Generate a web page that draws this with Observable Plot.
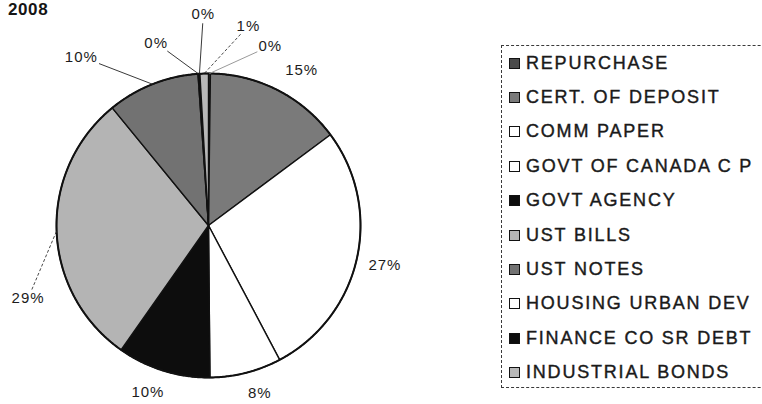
<!DOCTYPE html>
<html>
<head>
<meta charset="utf-8">
<script src="https://cdn.jsdelivr.net/npm/d3@7"></script>
<script src="https://cdn.jsdelivr.net/npm/@observablehq/plot@0.6"></script>
<style>
  html, body { margin: 0; padding: 0; background: #fff; overflow: hidden; }
  #wrap { position: relative; width: 762px; height: 404px; overflow: hidden;
          font-family: "Liberation Sans", Arial, Helvetica, sans-serif; }
  #chart { position: absolute; left: 0; top: 0; }
  #chart svg text { letter-spacing: 1px; }
  #title { position: absolute; left: 8px; top: 0px; font-size: 17px; font-weight: bold;
           color: #151515; letter-spacing: 0.6px; }
  #legend { position: absolute; left: 501px; top: 45px; width: 320px; height: 343px;
            border: 1px dashed #3a3a3a; border-right: none; box-sizing: border-box; }
  .item { height: 34.4px; display: flex; align-items: center; }
  .sw { width: 11px; height: 11px; border: 1.5px solid #111; box-sizing: border-box;
        margin-left: 7px; margin-right: 6px; flex: none; }
  .lab { font-size: 18px; letter-spacing: 1.8px; color: #1a1a1a; white-space: nowrap;
         -webkit-text-stroke: 0.4px #1a1a1a; }
</style>
</head>
<body>
<div id="wrap">
  <div id="chart"></div>
  <div id="title"></div>
  <div id="legend"></div>
</div>
<script>
// ---------------- data ----------------
const title = "2008";
const categories = [
  "REPURCHASE", "CERT. OF DEPOSIT", "COMM PAPER", "GOVT OF CANADA C P", "GOVT AGENCY",
  "UST BILLS", "UST NOTES", "HOUSING URBAN DEV", "FINANCE CO SR DEBT", "INDUSTRIAL BONDS"
];
const shares = [0.2, 14.6, 27.4, 7.6, 9.9, 29.3, 9.8, 0.1, 0.1, 0.9];
const fills = ["#4a4a4a", "#7a7a7a", "#ffffff", "#ffffff", "#0d0d0d",
               "#b4b4b4", "#727272", "#ffffff", "#0d0d0d", "#b8b8b8"];

// ---------------- layout ----------------
const W = 762, H = 404, CX = 208, CY = 225, R = 152;
// label placement overrides (angle in degrees clockwise from 12 o'clock, radius relative to pie)
const labelLayout = {
  "REPURCHASE":        {angle: 19,    r: 1.25, leader: "gray"},
  "CERT. OF DEPOSIT":  {angle: 31,    r: 1.19},
  "GOVT OF CANADA C P":{angle: 163,   r: 1.155},
  "GOVT AGENCY":       {angle: 200,   r: 1.165},
  "UST BILLS":         {angle: 248,   r: 1.28, leader: "dashed"},
  "UST NOTES":         {angle: 323,   r: 1.39, leader: "solid"},
  "HOUSING URBAN DEV": {angle: 344,   r: 1.25, leader: "solid"},
  "FINANCE CO SR DEBT":{angle: 358.6, r: 1.39, leader: "solid"},
  "INDUSTRIAL BONDS":  {angle: 11.3,  r: 1.34, leader: "dashed"}
};
const defaultLabelR = 1.19;

const rows = categories.map((c, i) => ({cat: c, value: shares[i]}));
const total = d3.sum(shares);
const arcs = d3.pie().sort(null).value(d => d.value)(rows);

const pt = (a, r) => ({x: Math.sin(a) * r, y: Math.cos(a) * r});

// slice polygons
const slicePts = [];
for (const a of arcs) {
  const c = a.data.cat;
  slicePts.push({cat: c, x: 0, y: 0});
  const n = Math.max(2, Math.ceil((a.endAngle - a.startAngle) / (Math.PI / 360)));
  for (let k = 0; k <= n; k++) {
    const ang = a.startAngle + (a.endAngle - a.startAngle) * k / n;
    slicePts.push({cat: c, ...pt(ang, R)});
  }
  slicePts.push({cat: c, x: 0, y: 0});
}
// outline
const circlePts = d3.range(0, 721).map(k => pt(k * Math.PI / 360, R));

// labels and leaders
const labels = [], leaders = [];
for (const a of arcs) {
  const c = a.data.cat;
  const mid = (a.startAngle + a.endAngle) / 2;
  const lay = labelLayout[c] || {};
  const ang = lay.angle != null ? lay.angle * Math.PI / 180 : mid;
  const rr = (lay.r != null ? lay.r : defaultLabelR) * R;
  const p = pt(ang, rr);
  const text = Math.round(a.data.value / total * 100) + "%";
  labels.push({cat: c, text, ...p});
  if (lay.leader) {
    const e = pt(mid, R);
    const dx = e.x - p.x, dy = e.y - p.y, len = Math.hypot(dx, dy);
    const ux = dx / len, uy = dy / len;
    const hw = text.length * 4.6 + 2, hh = 7;
    const t = Math.min(Math.abs(ux) > 1e-6 ? hw / Math.abs(ux) : Infinity,
                       Math.abs(uy) > 1e-6 ? hh / Math.abs(uy) : Infinity) + 2;
    leaders.push({cat: c, style: lay.leader, x1: p.x + ux * t, y1: p.y + uy * t, x2: e.x, y2: e.y});
  }
}

const plot = Plot.plot({
  width: W, height: H, margin: 0,
  x: {domain: [-CX, W - CX], axis: null},
  y: {domain: [-(H - CY), CY], axis: null},
  color: {domain: categories, range: fills},
  style: {background: "transparent", fontFamily: "'Liberation Sans', Arial, sans-serif", color: "#111"},
  marks: [
    Plot.line(slicePts, {x: "x", y: "y", z: "cat", fill: "cat", stroke: "#111",
                         strokeWidth: 1.4, strokeLinejoin: "miter"}),
    Plot.line(circlePts, {x: "x", y: "y", stroke: "#111", strokeWidth: 2}),
    Plot.link(leaders.filter(d => d.style === "solid"),
      {x1: "x1", y1: "y1", x2: "x2", y2: "y2", stroke: "#222", strokeWidth: 0.9}),
    Plot.link(leaders.filter(d => d.style === "gray"),
      {x1: "x1", y1: "y1", x2: "x2", y2: "y2", stroke: "#9a9a9a", strokeWidth: 1}),
    Plot.link(leaders.filter(d => d.style === "dashed"),
      {x1: "x1", y1: "y1", x2: "x2", y2: "y2", stroke: "#333", strokeWidth: 0.9, strokeDasharray: "3,2"}),
    Plot.text(labels, {x: "x", y: "y", text: "text", fontSize: 15, fill: "#1c1c1c"})
  ]
});
document.getElementById("chart").appendChild(plot);
document.getElementById("title").textContent = title;

// legend built from the plot's colour scale
const colorScale = plot.scale("color");
const colorOf = (c) => (colorScale && colorScale.apply) ? colorScale.apply(c) : fills[categories.indexOf(c)];
const legend = document.getElementById("legend");
for (const c of categories) {
  const item = document.createElement("div");
  item.className = "item";
  const sw = document.createElement("span");
  sw.className = "sw";
  sw.style.background = colorOf(c);
  const lab = document.createElement("span");
  lab.className = "lab";
  lab.textContent = c;
  item.appendChild(sw); item.appendChild(lab);
  legend.appendChild(item);
}
</script>
</body>
</html>
